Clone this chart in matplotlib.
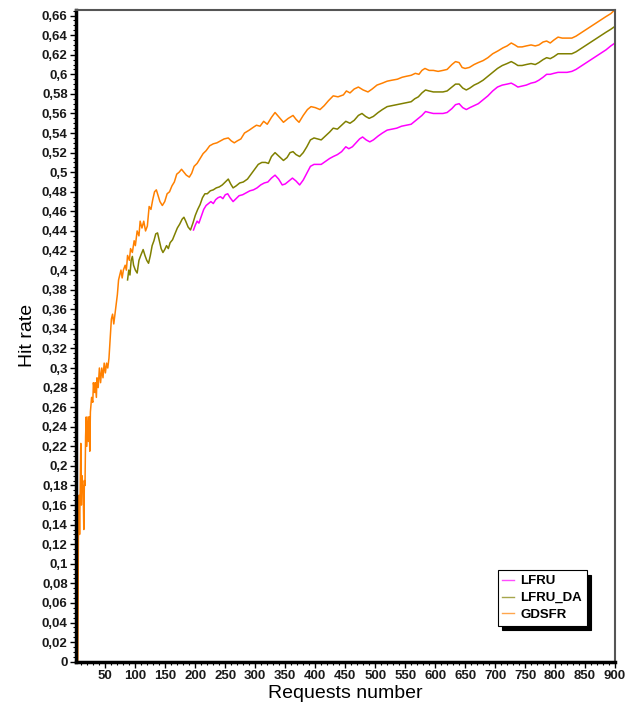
import numpy as np
import matplotlib.pyplot as plt
from matplotlib.ticker import FuncFormatter, MultipleLocator, FixedLocator

plt.rcParams['font.family'] = ['Liberation Sans', 'DejaVu Sans']

# (requests, hit rate)
gdsfr = [(4, 0.0), (5, 0.125), (6, 0.17), (7, 0.13), (9, 0.223), (10, 0.16), (11, 0.19),
         (13, 0.175), (14, 0.135), (15, 0.185), (16, 0.18), (17, 0.23), (18, 0.25), (19, 0.22),
         (21, 0.25), (22, 0.225), (23, 0.25), (24, 0.215), (25, 0.255), (27, 0.27), (29, 0.265),
         (30, 0.285), (32, 0.275), (33, 0.285), (35, 0.27), (36, 0.29), (38, 0.28), (40, 0.30),
         (42, 0.285), (44, 0.30), (46, 0.29), (48, 0.305), (50, 0.295), (52, 0.305), (54, 0.30),
         (56, 0.31), (58, 0.33), (60, 0.35), (62, 0.355), (64, 0.345), (66, 0.355), (68, 0.365),
         (70, 0.375), (72, 0.39), (74, 0.395), (76, 0.40), (78, 0.392), (80, 0.40), (83, 0.405),
         (85, 0.40), (87, 0.415), (90, 0.41), (92, 0.422), (95, 0.418), (98, 0.43), (100, 0.425),
         (103, 0.44), (106, 0.435), (108, 0.45), (111, 0.443), (114, 0.45), (117, 0.44),
         (120, 0.445), (123, 0.465), (126, 0.462), (129, 0.472), (132, 0.48), (135, 0.482),
         (138, 0.476), (141, 0.47), (145, 0.466), (149, 0.47), (153, 0.478), (157, 0.48),
         (161, 0.486), (165, 0.49), (169, 0.498), (173, 0.50), (177, 0.503), (181, 0.50),
         (185, 0.497), (190, 0.495), (194, 0.499), (198, 0.506), (203, 0.509), (208, 0.514),
         (213, 0.519), (218, 0.522), (224, 0.527), (230, 0.529), (236, 0.53), (242, 0.532),
         (248, 0.534), (255, 0.535), (260, 0.532), (265, 0.53), (270, 0.532), (276, 0.534),
         (282, 0.54), (290, 0.543), (297, 0.546), (302, 0.548), (308, 0.547), (314, 0.552),
         (320, 0.549), (327, 0.556), (333, 0.561), (340, 0.556), (347, 0.551), (355, 0.555),
         (363, 0.558), (368, 0.554), (373, 0.551), (380, 0.558), (387, 0.564), (393, 0.567),
         (400, 0.566), (408, 0.564), (415, 0.568), (422, 0.573), (430, 0.578), (438, 0.577),
         (447, 0.579), (452, 0.583), (458, 0.581), (465, 0.585), (472, 0.587), (480, 0.584),
         (488, 0.582), (495, 0.585), (503, 0.589), (512, 0.591), (520, 0.593), (528, 0.594),
         (537, 0.595), (545, 0.597), (552, 0.598), (560, 0.599), (567, 0.601), (573, 0.60),
         (578, 0.604), (583, 0.606), (590, 0.604), (597, 0.604), (605, 0.603), (613, 0.604),
         (620, 0.605), (628, 0.61), (634, 0.613), (640, 0.612), (645, 0.607), (650, 0.606),
         (657, 0.607), (665, 0.61), (672, 0.612), (680, 0.614), (688, 0.617), (696, 0.621),
         (705, 0.624), (713, 0.627), (720, 0.629), (727, 0.632), (733, 0.63), (738, 0.628),
         (745, 0.628), (752, 0.629), (760, 0.63), (767, 0.629), (773, 0.63), (780, 0.633),
         (786, 0.634), (792, 0.632), (798, 0.635), (805, 0.638), (812, 0.637), (820, 0.637),
         (828, 0.637), (835, 0.639), (845, 0.643), (855, 0.647), (865, 0.651), (875, 0.655),
         (885, 0.659), (893, 0.662), (900, 0.666)]

lfru_da = [(87, 0.39), (89, 0.40), (91, 0.395), (93, 0.41), (95, 0.414), (97, 0.405),
           (100, 0.40), (103, 0.397), (106, 0.41), (109, 0.415), (113, 0.421), (116, 0.415),
           (119, 0.41), (122, 0.407), (125, 0.415), (128, 0.425), (131, 0.43), (134, 0.437),
           (137, 0.438), (140, 0.43), (143, 0.422), (146, 0.418), (149, 0.421), (152, 0.425),
           (155, 0.422), (158, 0.428), (162, 0.431), (166, 0.437), (170, 0.443), (174, 0.447),
           (178, 0.452), (181, 0.454), (184, 0.45), (188, 0.444), (192, 0.441), (196, 0.448),
           (200, 0.456), (204, 0.462), (208, 0.467), (212, 0.474), (216, 0.478), (220, 0.478),
           (225, 0.481), (230, 0.482), (235, 0.484), (240, 0.485), (245, 0.487), (250, 0.49),
           (255, 0.493), (259, 0.488), (263, 0.484), (268, 0.486), (274, 0.489), (280, 0.49),
           (287, 0.493), (293, 0.498), (299, 0.503), (305, 0.508), (311, 0.51), (317, 0.51),
           (322, 0.509), (327, 0.516), (333, 0.52), (340, 0.516), (347, 0.512), (353, 0.515),
           (358, 0.52), (363, 0.521), (368, 0.518), (374, 0.516), (380, 0.52), (386, 0.526),
           (392, 0.533), (398, 0.535), (404, 0.534), (410, 0.533), (417, 0.537), (424, 0.541),
           (430, 0.545), (437, 0.544), (444, 0.548), (451, 0.552), (458, 0.55), (465, 0.553),
           (472, 0.558), (478, 0.56), (484, 0.557), (490, 0.555), (497, 0.557), (505, 0.561),
           (512, 0.564), (520, 0.567), (528, 0.568), (536, 0.569), (544, 0.57), (552, 0.571),
           (560, 0.572), (566, 0.575), (572, 0.577), (578, 0.581), (584, 0.584), (590, 0.583),
           (597, 0.582), (605, 0.582), (613, 0.582), (620, 0.583), (628, 0.587), (634, 0.59),
           (640, 0.59), (646, 0.586), (652, 0.584), (658, 0.586), (665, 0.589), (672, 0.591),
           (680, 0.594), (688, 0.598), (696, 0.602), (704, 0.606), (712, 0.609), (720, 0.611),
           (727, 0.613), (733, 0.611), (738, 0.609), (745, 0.609), (752, 0.61), (760, 0.611),
           (767, 0.61), (773, 0.612), (780, 0.615), (786, 0.617), (792, 0.616), (798, 0.618),
           (805, 0.621), (812, 0.621), (820, 0.621), (828, 0.621), (835, 0.623), (845, 0.627),
           (855, 0.631), (865, 0.635), (875, 0.639), (885, 0.643), (893, 0.646), (900, 0.649)]

lfru = [(197, 0.441), (200, 0.446), (203, 0.45), (206, 0.448), (210, 0.455), (214, 0.462),
        (218, 0.466), (222, 0.468), (226, 0.47), (230, 0.468), (234, 0.472), (238, 0.474),
        (242, 0.475), (246, 0.473), (250, 0.477), (254, 0.478), (258, 0.474), (263, 0.47),
        (268, 0.473), (273, 0.476), (279, 0.477), (285, 0.479), (291, 0.481), (297, 0.482),
        (303, 0.484), (309, 0.487), (315, 0.489), (321, 0.49), (327, 0.494), (333, 0.497),
        (339, 0.493), (345, 0.487), (350, 0.488), (356, 0.491), (362, 0.494), (368, 0.491),
        (374, 0.487), (380, 0.492), (386, 0.499), (392, 0.506), (398, 0.508), (404, 0.508),
        (410, 0.508), (417, 0.511), (424, 0.514), (430, 0.516), (437, 0.518), (444, 0.521),
        (451, 0.526), (456, 0.524), (462, 0.526), (468, 0.53), (474, 0.534), (479, 0.536),
        (485, 0.533), (491, 0.531), (497, 0.533), (505, 0.537), (512, 0.54), (520, 0.543),
        (528, 0.544), (536, 0.545), (544, 0.547), (552, 0.548), (560, 0.549), (566, 0.552),
        (572, 0.555), (578, 0.558), (584, 0.562), (590, 0.561), (597, 0.56), (605, 0.56),
        (613, 0.56), (620, 0.561), (628, 0.565), (634, 0.569), (640, 0.57), (646, 0.566),
        (652, 0.564), (658, 0.566), (665, 0.568), (672, 0.57), (680, 0.574), (688, 0.578),
        (696, 0.583), (704, 0.587), (712, 0.589), (720, 0.59), (727, 0.591), (733, 0.589),
        (738, 0.587), (745, 0.588), (752, 0.589), (760, 0.591), (767, 0.592), (773, 0.594),
        (780, 0.597), (786, 0.60), (792, 0.60), (798, 0.601), (805, 0.602), (812, 0.602),
        (820, 0.602), (828, 0.603), (835, 0.605), (845, 0.609), (855, 0.613), (865, 0.617),
        (875, 0.621), (885, 0.625), (893, 0.629), (900, 0.632)]

labels = ['LFRU', 'LFRU_DA', 'GDSFR']
colors = ['#ff00ff', '#808000', '#ff8000']

fig = plt.figure(figsize=(6.27, 7.11), dpi=100)
ax = fig.add_axes([76 / 627, 1 - 661.7 / 711, 539 / 627, 651.7 / 711])

for data, lab, col in zip([lfru, lfru_da, gdsfr], labels, colors):
    xs, ys = zip(*data)
    ax.plot(xs, ys, color=col, lw=1.1, label=lab)

ax.set_xlim(1, 900)
ax.set_ylim(0, 0.6657)

ax.xaxis.set_major_locator(FixedLocator(np.arange(50, 901, 50)))
ax.xaxis.set_minor_locator(MultipleLocator(10))
ax.yaxis.set_major_locator(MultipleLocator(0.02))
ax.yaxis.set_minor_locator(MultipleLocator(0.005))
ax.yaxis.set_major_formatter(FuncFormatter(lambda v, p: '{:g}'.format(round(v, 3)).replace('.', ',')))

ax.tick_params(which='major', length=4, width=1, labelsize=9.5, pad=2)
ax.tick_params(which='minor', length=2, width=0.8)
for t in ax.get_xticklabels() + ax.get_yticklabels():
    t.set_fontweight('bold')
    t.set_color('#1a1a1a')

for s in ['left', 'bottom']:
    ax.spines[s].set_linewidth(2.5)
    ax.spines[s].set_color('black')
for s in ['top', 'right']:
    ax.spines[s].set_linewidth(1.5)
    ax.spines[s].set_color('#555555')

ax.set_xlabel('Requests number', fontsize=14, labelpad=2)
ax.set_ylabel('Hit rate', fontsize=14, labelpad=4)

leg = ax.legend(loc='upper right', bbox_to_anchor=(0.948, 0.14),
                prop={'size': 9.5, 'weight': 'bold'},
                frameon=True, fancybox=False, shadow={'color': 'black', 'alpha': 1, 'ox': 3, 'oy': -3},
                handlelength=0.9, handletextpad=0.5, borderpad=0.35, labelspacing=0.35,
                borderaxespad=0)
leg.get_frame().set_edgecolor('black')
leg.get_frame().set_linewidth(0.8)
for h in leg.get_lines():
    h.set_linewidth(1.0)
    h.set_alpha(0.7)

fig.savefig('out.png', dpi=100)
